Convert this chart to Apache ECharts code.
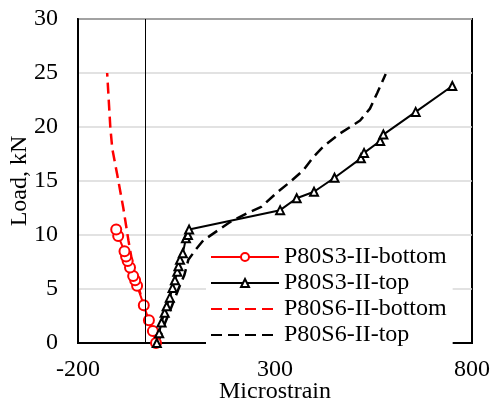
<!DOCTYPE html>
<html>
<head>
<meta charset="utf-8">
<script src="https://cdn.jsdelivr.net/npm/echarts@6/dist/echarts.min.js"></script>
<style>
  html, body { margin: 0; padding: 0; background: #fff; }
  #chart { width: 490px; height: 405px; }
</style>
</head>
<body>
<div id="chart"></div>
<script>
// [microstrain, load kN]
const s3Bottom = [[-2, 0], [-10, 1.1], [-20, 2.1], [-33, 3.5], [-50, 5.3], [-55, 5.8], [-60, 6.2], [-68, 7.0],
  [-74, 7.6], [-78, 8.0], [-82, 8.5], [-98, 9.9], [-103, 10.5]]
const s3Top = [[0, 0], [6, 0.9], [12, 1.9], [20, 2.8], [25, 3.4], [33, 4.2], [40, 5.1], [46, 5.8], [52, 6.6],
  [55, 7.1], [59, 7.7], [66, 8.3], [74, 9.7], [79, 10.0], [82, 10.5], [313, 12.3], [355, 13.4], [399, 14.0],
  [451, 15.3], [518, 17.1], [526, 17.6], [567, 18.7], [575, 19.3], [657, 21.4], [750, 23.8]]
const s6Bottom = [[0, 0], [-15, 1.5], [-30, 3], [-45, 5], [-60, 7], [-72, 9.5], [-85, 12.5], [-100, 15.5],
  [-113, 18], [-118, 20], [-122, 22.5], [-126, 25]]
const s6Top = [[3, 0], [17, 1.5], [38, 3.4], [55, 5], [70, 6.3], [80, 7.7], [100, 8.7], [118, 9.5], [186, 11.2],
  [228, 12.0], [265, 12.6], [304, 13.9], [338, 14.9], [372, 16], [397, 17.2], [423, 18.2], [465, 19.4],
  [516, 20.6], [541, 21.7], [560, 23.2], [581, 24.9]]
const names = ['P80S3-II-bottom', 'P80S3-II-top', 'P80S6-II-bottom', 'P80S6-II-top']
const refLineX = -30

const font = "'Liberation Serif', 'Times New Roman', serif"
const chart = echarts.init(document.getElementById('chart'))

// dashed series have no markers, hide the dot in their legend icon
const hideDot = { opacity: 0 }

const option = {
  animation: false,
  grid: {
    left: 78, right: 18, top: 19, bottom: 62,
    outerBoundsMode: 'none',
    containLabel: false,
    show: true, borderColor: '#000', borderWidth: 2
  },
  legend: {
    orient: 'vertical',
    left: 206,
    top: 243,
    data: [
      { name: names[0] },
      { name: names[1] },
      { name: names[2], itemStyle: hideDot },
      { name: names[3], itemStyle: hideDot }
    ],
    itemWidth: 68,
    itemHeight: 10,
    itemGap: 2,
    backgroundColor: '#fff',
    padding: [2, 6, 0, 4],
    textStyle: { fontFamily: font, fontSize: 24, color: '#000', lineHeight: 22 }
  },
  xAxis: {
    type: 'value',
    min: -200, max: 800, interval: 500,
    name: 'Microstrain',
    nameLocation: 'middle',
    nameGap: 37,
    nameMoveOverlap: false,
    nameTextStyle: { fontFamily: font, fontSize: 24, color: '#000' },
    axisLine: { onZero: false, lineStyle: { color: '#000', width: 2 } },
    axisTick: { inside: true, length: 4, lineStyle: { color: '#000' } },
    axisLabel: { fontFamily: font, fontSize: 24, color: '#000', margin: 15 },
    splitLine: { show: false }
  },
  yAxis: {
    type: 'value',
    min: 0, max: 30, interval: 5,
    name: 'Load, kN',
    nameLocation: 'middle',
    nameGap: 46,
    nameMoveOverlap: false,
    nameTextStyle: { fontFamily: font, fontSize: 24, color: '#000' },
    axisLine: { show: true, onZero: false, lineStyle: { color: '#000', width: 2 } },
    axisTick: { show: false },
    axisLabel: { fontFamily: font, fontSize: 24, color: '#000', margin: 20 },
    splitLine: { lineStyle: { color: '#d9d9d9', width: 1.5 } }
  },
  series: [
    {
      name: names[2],
      type: 'line',
      data: s6Bottom,
      symbol: 'none',
      lineStyle: { color: '#ff0000', width: 2.5, type: [11, 6] },
      itemStyle: { color: '#ff0000' },
      markLine: {
        silent: true,
        symbol: 'none',
        label: { show: false },
        lineStyle: { color: '#000', width: 1, type: 'solid' },
        data: [{ xAxis: refLineX }]
      }
    },
    {
      name: names[3],
      type: 'line',
      data: s6Top,
      symbol: 'none',
      lineStyle: { color: '#000', width: 2.5, type: [11, 6] },
      itemStyle: { color: '#000' }
    },
    {
      name: names[0],
      type: 'line',
      data: s3Bottom,
      symbol: 'emptyCircle',
      symbolSize: 10,
      lineStyle: { color: '#ff0000', width: 2 },
      itemStyle: { color: '#ff0000', borderWidth: 1.5 }
    },
    {
      name: names[1],
      type: 'line',
      data: s3Top,
      symbol: 'emptyTriangle',
      symbolSize: 8,
      lineStyle: { color: '#000', width: 2 },
      itemStyle: { color: '#000', borderWidth: 1.5 }
    }
  ]
}
chart.setOption(option)
</script>
</body>
</html>
